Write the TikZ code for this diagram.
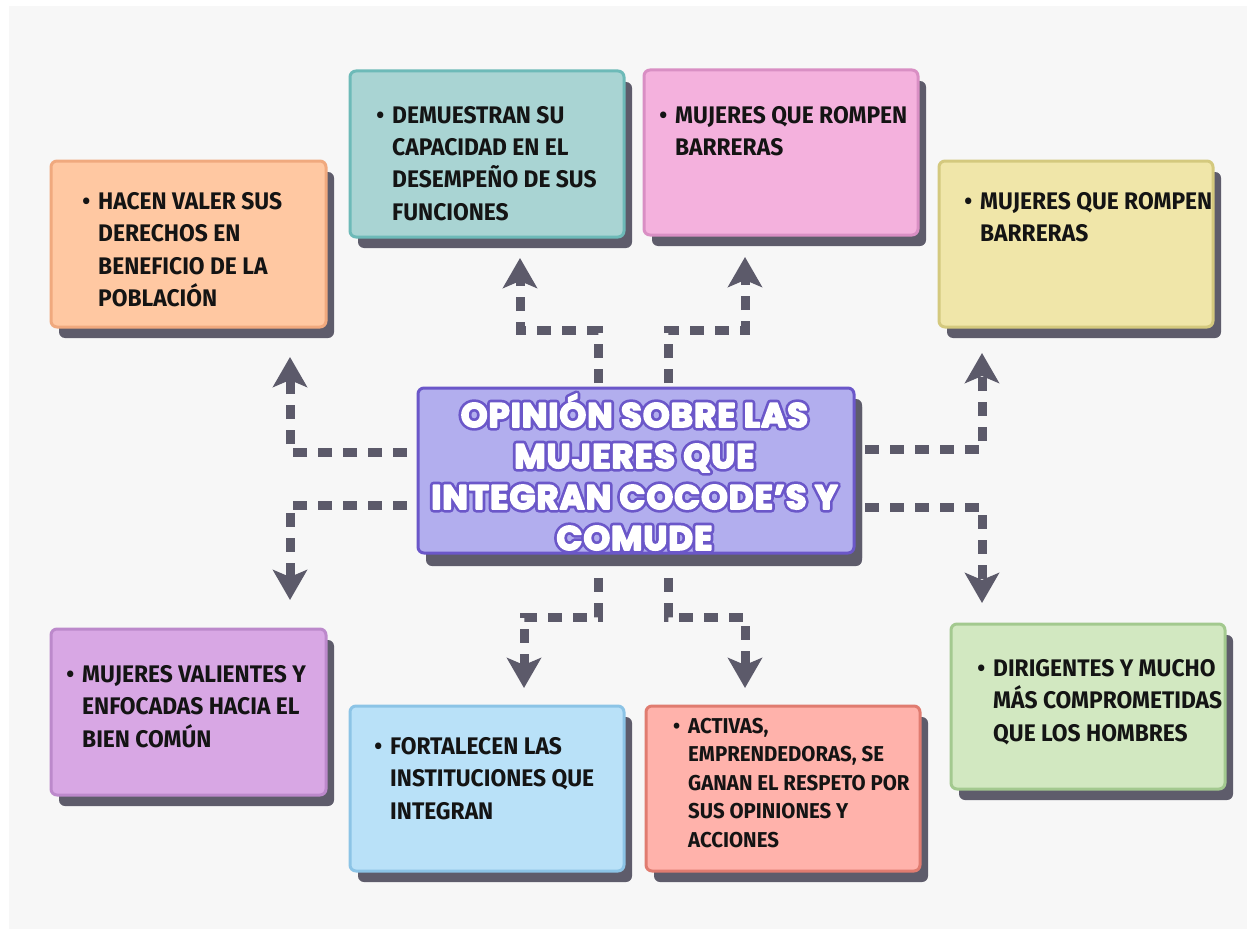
\documentclass[tikz,border=0pt]{standalone}
\usepackage{fontspec}
\setmainfont{Fira Sans}
\newfontfamily\bodyfont{Fira Sans}[FakeStretch=0.95]
\newfontfamily\titlefont{Poppins}[LetterSpace=3]
\usetikzlibrary{arrows.meta,calc,shadows}
\definecolor{bgc}{HTML}{F7F7F7}
\definecolor{shc}{HTML}{5E5C6B}
\definecolor{arrc}{HTML}{5C5A6A}
\definecolor{txtc}{HTML}{141414}
\definecolor{orF}{HTML}{FFC8A2}\definecolor{orD}{HTML}{F0A97E}
\definecolor{teF}{HTML}{A9D4D3}\definecolor{teD}{HTML}{6DBAB8}
\definecolor{piF}{HTML}{F4B1DD}\definecolor{piD}{HTML}{D98FC4}
\definecolor{yeF}{HTML}{F0E6A9}\definecolor{yeD}{HTML}{D4C97E}
\definecolor{puF}{HTML}{D8A7E4}\definecolor{puD}{HTML}{BC89CB}
\definecolor{blF}{HTML}{B9E1F8}\definecolor{blD}{HTML}{8CC4E6}
\definecolor{saF}{HTML}{FFB2AB}\definecolor{saD}{HTML}{E07C70}
\definecolor{grF}{HTML}{D2E8C1}\definecolor{grD}{HTML}{A3C98F}
\definecolor{ceF}{HTML}{B2AEEE}\definecolor{ceD}{HTML}{6B57C9}
\newcommand\strkpurple{\special{pdf:literal direct 2 Tr 7 w 1 j 0.42 0.34 0.79 RG 0.42 0.34 0.79 rg}}
\newcommand\strkwhite{\special{pdf:literal direct 2 Tr 1.6 w 1 j 1 1 1 RG 1 1 1 rg}}
\newcommand\strkoff{\special{pdf:literal direct 0 Tr}}
\newcommand\ttllines{\vtop{\halign{\hfil##\hfil\cr OPINIÓN SOBRE LAS\cr MUJERES QUE\cr INTEGRAN COCODE’S Y\cr COMUDE\cr}}}
\newcommand\bl{\llap{\textbullet\hspace{8pt}}}
\tikzset{
  box/.style={draw, line width=3pt, rounded corners=6pt, anchor=north west,
    inner sep=0pt,
    drop shadow={shadow xshift=8pt, shadow yshift=-11pt, fill=shc, opacity=1}},
  txt/.style={anchor=base west, inner sep=0pt, text=txtc,
    font=\bodyfont\bfseries\fontsize{24}{32.5}\selectfont},
  txtsm/.style={txt, font=\bodyfont\bfseries\fontsize{21.5}{28.6}\selectfont},
  conn/.style={draw=arrc, line width=9pt, dash pattern=on 14pt off 11pt,
    -{Stealth[length=30pt,width=34pt,inset=7pt]}},
  ttl/.style={anchor=base, inner sep=0pt, text=white,
    font=\titlefont\bfseries\fontsize{34}{41}\selectfont}
}
\begin{document}
\begin{tikzpicture}[x=1pt,y=-1pt]
\useasboundingbox (0,0) rectangle (1254,934);
\fill[white] (0,0) rectangle (1254,934);
\fill[bgc] (9,6) rectangle (1247,929);

% boxes
\node[box, fill=orF, draw=orD, minimum width=275pt, minimum height=166pt] (b1) at (49.5,159.5) {};
\node[box, fill=teF, draw=teD, minimum width=274pt, minimum height=166pt] (b2) at (348.5,69.5) {};
\node[box, fill=piF, draw=piD, minimum width=274pt, minimum height=165pt] (b3) at (642.5,68.5) {};
\node[box, fill=yeF, draw=yeD, minimum width=274pt, minimum height=166pt] (b4) at (937.5,159.5) {};
\node[box, fill=puF, draw=puD, minimum width=275pt, minimum height=166pt] (b5) at (49.5,627.5) {};
\node[box, fill=blF, draw=blD, minimum width=274pt, minimum height=165pt] (b6) at (348.5,704.5) {};
\node[box, fill=saF, draw=saD, minimum width=274pt, minimum height=165pt] (b7) at (644.5,704.5) {};
\node[box, fill=grF, draw=grD, minimum width=274pt, minimum height=165pt] (b8) at (949.5,622.5) {};
\node[box, fill=ceF, draw=ceD, minimum width=436pt, minimum height=165pt,
  drop shadow={shadow xshift=8pt, shadow yshift=-13pt, fill=shc, opacity=1}] (c) at (416.5,386.5) {};

% box texts
\node[txt] (x1) at (98,209) {\vtop{\hbox{\bl HACEN VALER SUS}\hbox{DERECHOS EN}\hbox{BENEFICIO DE LA}\hbox{POBLACIÓN}}};
\node[txt] (x2) at (392,123) {\vtop{\hbox{\bl DEMUESTRAN SU}\hbox{CAPACIDAD EN EL}\hbox{DESEMPEÑO DE SUS}\hbox{FUNCIONES}}};
\node[txt] (x3) at (675,123) {\vtop{\hbox{\bl MUJERES QUE ROMPEN}\hbox{BARRERAS}}};
\node[txt] (x4) at (980,209) {\vtop{\hbox{\bl MUJERES QUE ROMPEN}\hbox{BARRERAS}}};
\node[txt] (x5) at (82,682) {\vtop{\hbox{\bl MUJERES VALIENTES Y}\hbox{ENFOCADAS HACIA EL}\hbox{BIEN COMÚN}}};
\node[txt] (x6) at (390,754) {\vtop{\hbox{\bl FORTALECEN LAS}\hbox{INSTITUCIONES QUE}\hbox{INTEGRAN}}};
\node[txtsm] (x7) at (688,733) {\vtop{\hbox{\bl ACTIVAS,}\hbox{EMPRENDEDORAS, SE}\hbox{GANAN EL RESPETO POR}\hbox{SUS OPINIONES Y}\hbox{ACCIONES}}};
\node[txt] (x8) at (993,676) {\vtop{\hbox{\bl DIRIGENTES Y MUCHO}\hbox{MÁS COMPROMETIDAS}\hbox{QUE LOS HOMBRES}}};

% title (purple outline layer under white layer)
\node[ttl] (t) at (634.5,427) {\hbox to 0pt{\strkpurple\ttllines\strkoff\hss}\strkwhite\ttllines\strkoff};

% connector end points
\coordinate (s1) at (407,452); \coordinate (e1) at (290,357);
\coordinate (s2) at (407,505); \coordinate (e2) at (290,600);
\coordinate (s3) at (865,449); \coordinate (e3) at (982,353);
\coordinate (s4) at (865,507); \coordinate (e4) at (982,603);
\coordinate (s5) at (598,383); \coordinate (k5) at (598,330); \coordinate (e5) at (520,258);
\coordinate (s6) at (668,383); \coordinate (k6) at (668,330); \coordinate (e6) at (745,257);
\coordinate (s7) at (598,578); \coordinate (k7) at (598,617); \coordinate (e7) at (524,688);
\coordinate (s8) at (668,578); \coordinate (k8) at (668,617); \coordinate (e8) at (745,688);

\draw[conn] (s1) -| (e1);
\draw[conn] (s2) -| (e2);
\draw[conn] (s3) -| (e3);
\draw[conn] (s4) -| (e4);
\draw[conn] (s5) -- (k5) -| (e5);
\draw[conn] (s6) -- (k6) -| (e6);
\draw[conn] (s7) -- (k7) -| (e7);
\draw[conn] (s8) -- (k8) -| (e8);
\end{tikzpicture}
\end{document}
